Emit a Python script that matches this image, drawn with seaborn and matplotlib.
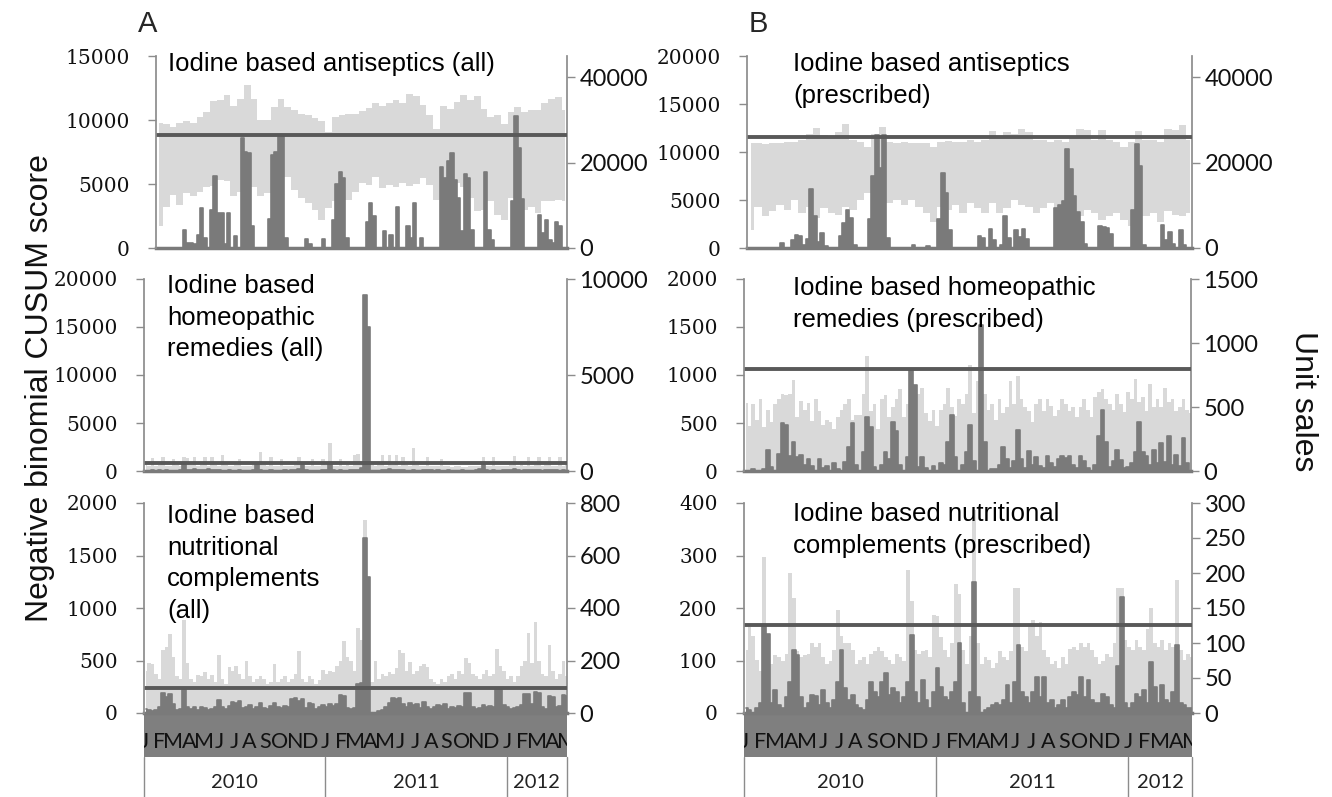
import numpy as np
import pandas as pd
import seaborn as sns
import matplotlib.pyplot as plt
from matplotlib.patches import Rectangle
from matplotlib.transforms import Bbox, TransformedBbox, blended_transform_factory

sns.set_theme(style='white')
plt.rcParams['font.family'] = ['Liberation Sans', 'DejaVu Sans']

# ---- data (weekly CUSUM, sales per week / fortnight) ----
# Jan 2010 .. Apr 2012, week 0 starts 1 Jan 2010
a_top_cusum_k = [0, 0, 0, 0, 0, 0, 0, 0, 1.4, 0.4,
                 0.4, 0.3, 1.0, 3.1, 0.8, 0, 3.0, 5.6, 2.7, 2.7,
                 0.3, 2.7, 0, 0.9, 0, 8.6, 7.5, 7.4, 1.7, 0,
                 0, 0, 0, 2.3, 7.3, 7.5, 8.7, 8.8, 0.8, 0,
                 0, 0, 0, 0, 0.7, 0.3, 0, 0, 0, 0.7,
                 0, 0, 2.2, 5.0, 5.9, 5.5, 0.8, 0, 0, 0,
                 0, 0, 2.0, 3.5, 2.5, 0, 0, 1.3, 0, 1.0,
                 0, 3.2, 0, 0, 1.7, 0.8, 3.5, 0, 0.8, 0,
                 0, 0, 0, 0, 6.3, 5.5, 6.8, 7.4, 5.3, 3.9,
                 1.3, 5.8, 5.5, 1.4, 0, 0, 0, 5.9, 1.4, 0.6,
                 0, 0, 0, 0, 0, 3.7, 10.3, 7.8, 3.8, 0,
                 0, 0, 0, 2.6, 1.2, 2.2, 0.6, 0.4, 2.0, 1.7,
                 0, 0]
# fortnightly high / low of daily unit sales (thousands)
a_top_sales_hi_k = [29.4, 29.0, 28.4, 29.2, 29.8, 29.3, 30.7, 31.9, 34.5, 34.6,
                    35.8, 33.2, 35.0, 38.1, 35.0, 30.0, 30.0, 33.1, 35.0, 33.1,
                    32.3, 31.5, 31.1, 30.4, 29.8, 27.2, 30.7, 31.1, 31.5, 31.5,
                    32.1, 32.9, 34.0, 33.2, 33.9, 34.6, 34.0, 36.2, 35.6, 33.5,
                    31.1, 28.0, 33.2, 32.5, 34.2, 35.8, 34.8, 35.6, 32.5, 30.7,
                    31.1, 29.0, 31.9, 33.1, 31.9, 32.3, 32.3, 33.9, 35.0, 35.3,
                    32.3]
a_top_sales_lo_k = [5.2, 9.7, 12.5, 10.1, 12.8, 12.1, 13.2, 14.4, 14.6, 16.0,
                    15.6, 12.1, 13.2, 15.6, 14.4, 12.1, 12.8, 13.2, 14.0, 16.7,
                    13.6, 11.7, 10.5, 8.9, 6.6, 9.3, 10.9, 11.7, 11.3, 13.2,
                    15.2, 14.8, 16.7, 14.0, 14.8, 14.4, 15.3, 14.6, 15.0, 16.3,
                    14.8, 11.3, 14.4, 12.8, 15.2, 14.4, 11.7, 8.6, 8.9, 10.9,
                    7.8, 6.6, 11.7, 9.6, 8.9, 9.7, 8.3, 11.1, 10.9, 11.3,
                    10.9]

b_top_cusum_k = [0, 0, 0, 0, 0, 0, 0, 0, 0, 0.5,
                 0, 0, 0.8, 1.4, 1.2, 0.3, 0.9, 6.1, 3.3, 0.6,
                 1.6, 0.2, 0, 0, 0, 1.2, 2.6, 4.0, 3.1, 0.3,
                 0, 0, 0, 3.0, 7.5, 11.8, 8.3, 11.8, 1.0, 0,
                 0, 0, 0, 0, 0, 0.3, 0, 0, 0, 0.2,
                 0, 0, 3.0, 7.8, 5.7, 1.9, 0, 0, 0, 0,
                 0, 0, 0, 1.2, 1.0, 0, 2.0, 0.8, 0, 0.3,
                 3.3, 1.0, 0, 1.9, 1.1, 2.0, 0.9, 0, 0, 0,
                 0, 0, 0, 0, 4.2, 4.5, 4.9, 10.3, 8.2, 5.4,
                 3.8, 2.7, 0.4, 0, 0, 0, 2.3, 2.2, 2.1, 1.5,
                 0, 0, 0, 0, 0, 4.0, 10.8, 8.5, 0.3, 0,
                 0, 0, 0, 2.4, 0.8, 1.7, 0.4, 0, 1.9, 0.3,
                 0, 0]
b_top_sales_hi_k = [24.5, 24.5, 24.4, 24.7, 24.5, 24.9, 24.9, 25.4, 26.8, 28.2,
                    26.5, 26.1, 27.2, 29.0, 25.4, 24.9, 23.7, 26.8, 28.4, 24.9,
                    24.7, 24.9, 24.5, 24.7, 24.5, 23.7, 24.9, 25.1, 24.9, 24.9,
                    25.3, 24.9, 25.3, 27.5, 25.7, 27.2, 26.8, 28.0, 27.2, 25.3,
                    25.3, 24.9, 25.3, 24.9, 25.7, 28.0, 27.6, 25.3, 27.6, 25.3,
                    24.9, 23.7, 24.9, 27.5, 25.3, 25.3, 24.9, 28.0, 27.6, 28.8,
                    25.3]
b_top_sales_lo_k = [4.3, 9.7, 7.4, 8.6, 10.1, 8.9, 11.3, 8.2, 9.7, 7.0,
                    9.3, 8.2, 7.8, 9.7, 8.9, 11.3, 12.8, 9.7, 8.2, 10.5,
                    11.3, 10.1, 11.3, 9.7, 8.2, 6.2, 9.7, 8.9, 10.1, 8.2,
                    10.5, 9.3, 8.2, 10.5, 8.2, 9.3, 11.3, 10.1, 9.7, 8.2,
                    9.3, 10.5, 8.6, 8.2, 9.7, 7.4, 8.9, 8.2, 6.6, 7.4,
                    8.2, 6.6, 5.1, 9.7, 7.4, 8.2, 6.2, 8.6, 7.8, 7.4,
                    8.2]

a_mid_cusum = [50, 0, 80, 0, 60, 0, 100, 0, 50, 0,
               120, 700, 150, 100, 200, 80, 150, 120, 200, 100,
               150, 80, 0, 50, 150, 0, 0, 100, 0, 50,
               0, 100, 700, 100, 0, 50, 150, 0, 50, 0,
               80, 0, 100, 150, 200, 650, 100, 0, 0, 50,
               0, 100, 150, 700, 150, 0, 80, 0, 50, 100,
               80, 150, 300, 18300, 15000, 0, 0, 50, 150, 100,
               200, 100, 150, 80, 100, 0, 50, 100, 0, 50,
               100, 150, 80, 0, 100, 50, 0, 80, 0, 50,
               0, 80, 0, 50, 0, 100, 200, 750, 150, 50,
               100, 50, 0, 80, 100, 150, 200, 100, 50, 100,
               150, 80, 100, 150, 50, 100, 150, 80, 100, 50,
               80, 50]
a_mid_sales = [300, 250, 700, 280, 300, 750, 260, 280, 640, 300,
               280, 720, 700, 300, 720, 280, 300, 720, 260, 720,
               300, 280, 810, 300, 250, 260, 300, 640, 280, 250,
               260, 300, 280, 985, 300, 260, 720, 280, 260, 640,
               250, 280, 260, 300, 720, 280, 250, 260, 640, 280,
               260, 640, 300, 1450, 280, 260, 640, 280, 300, 260,
               810, 900, 300, 9100, 3500, 300, 280, 300, 810, 280,
               810, 300, 810, 280, 720, 300, 280, 1200, 300, 280,
               260, 720, 280, 250, 260, 640, 250, 240, 220, 240,
               250, 230, 220, 240, 260, 250, 280, 720, 280, 260,
               720, 280, 260, 250, 280, 300, 760, 280, 300, 260,
               720, 280, 300, 720, 280, 300, 720, 280, 260, 720,
               280, 300]

b_mid_cusum = [0, 0, 20, 0, 0, 20, 220, 40, 0, 180,
               500, 480, 160, 300, 150, 165, 60, 130, 50, 0,
               130, 30, 50, 0, 80, 20, 0, 95, 250, 500,
               60, 0, 200, 560, 460, 40, 0, 60, 200, 120,
               510, 420, 60, 0, 150, 1060, 900, 40, 150, 30,
               0, 50, 0, 80, 60, 300, 580, 150, 0, 60,
               200, 480, 100, 0, 1520, 300, 0, 20, 20, 60,
               250, 120, 30, 100, 430, 120, 30, 210, 60, 150,
               50, 30, 160, 80, 40, 130, 160, 140, 160, 60,
               30, 160, 100, 30, 0, 60, 360, 640, 300, 40,
               100, 220, 110, 30, 40, 80, 200, 510, 200, 160,
               60, 220, 80, 290, 90, 365, 60, 165, 50, 340,
               80, 0]
b_mid_sales = [530, 350, 520, 400, 560, 340, 480, 380, 520, 560,
               600, 590, 600, 710, 420, 550, 480, 530, 390, 560,
               470, 360, 400, 380, 330, 420, 480, 520, 560, 400,
               440, 440, 600, 900, 470, 520, 330, 560, 590, 420,
               500, 560, 640, 420, 520, 560, 430, 600, 650, 450,
               390, 480, 350, 480, 520, 650, 500, 430, 560, 520,
               600, 830, 450, 700, 1000, 600, 480, 520, 400, 560,
               450, 500, 700, 520, 740, 560, 500, 470, 380, 520,
               560, 470, 560, 510, 430, 480, 560, 520, 470, 500,
               420, 500, 560, 480, 420, 580, 620, 640, 560, 520,
               480, 600, 520, 460, 620, 560, 720, 540, 580, 470,
               680, 500, 560, 500, 650, 540, 560, 470, 500, 560,
               480, 450]

a_bot_cusum = [40, 30, 20, 30, 60, 190, 150, 185, 90, 30,
               40, 235, 60, 40, 55, 30, 60, 45, 30, 40,
               60, 120, 60, 40, 70, 105, 95, 110, 50, 60,
               80, 40, 60, 95, 50, 40, 70, 95, 60, 50,
               70, 60, 130, 140, 110, 135, 50, 95, 90, 40,
               60, 80, 60, 85, 70, 90, 170, 160, 50, 40,
               50, 280, 290, 1665, 1300, 0, 0, 20, 30, 60,
               100, 140, 130, 140, 90, 60, 95, 80, 90, 50,
               108, 60, 40, 60, 80, 70, 85, 40, 60, 50,
               70, 60, 190, 195, 60, 40, 50, 80, 60, 70,
               60, 235, 230, 80, 60, 40, 50, 60, 80, 180,
               185, 90, 200, 190, 60, 40, 165, 150, 60, 70,
               170, 165]
a_bot_sales = [160, 190, 185, 150, 130, 240, 250, 300, 215, 140,
               130, 355, 190, 130, 120, 145, 140, 155, 130, 145,
               120, 220, 130, 110, 175, 160, 180, 150, 130, 200,
               140, 120, 130, 140, 130, 110, 120, 185, 120, 130,
               140, 120, 130, 150, 235, 130, 120, 140, 130, 110,
               125, 165, 150, 160, 155, 180, 200, 275, 215, 200,
               160, 325, 280, 735, 380, 120, 200, 130, 150, 140,
               155, 150, 170, 240, 230, 160, 195, 150, 160, 180,
               185, 175, 130, 120, 110, 130, 120, 140, 150, 130,
               160, 150, 210, 190, 150, 140, 130, 150, 165, 140,
               150, 245, 180, 160, 130, 140, 120, 140, 180, 200,
               305, 190, 345, 200, 150, 140, 260, 160, 130, 150,
               200, 140]

b_bot_cusum = [10, 5, 0, 10, 20, 168, 150, 20, 44, 15,
               10, 30, 60, 120, 110, 30, 10, 20, 35, 33,
               15, 44, 20, 10, 25, 60, 120, 48, 25, 35,
               15, 10, 5, 25, 60, 40, 30, 60, 76, 35,
               48, 40, 20, 30, 60, 149, 40, 20, 63, 25,
               10, 40, 85, 50, 30, 25, 40, 60, 133, 20,
               0, 40, 250, 30, 0, 5, 10, 15, 20, 15,
               25, 53, 20, 60, 130, 40, 30, 20, 40, 69,
               30, 69, 20, 25, 10, 15, 25, 10, 30, 40,
               35, 69, 30, 63, 25, 20, 20, 37, 30, 15,
               10, 90, 221, 20, 10, 20, 37, 30, 44, 20,
               98, 50, 20, 53, 25, 20, 40, 130, 20, 15,
               10, 10]
b_bot_sales = [90, 123, 110, 76, 60, 223, 90, 70, 83, 80,
               75, 85, 200, 164, 88, 80, 83, 85, 100, 95,
               100, 80, 70, 75, 90, 147, 110, 100, 100, 90,
               70, 76, 80, 70, 85, 88, 95, 88, 80, 76,
               70, 85, 80, 75, 204, 160, 90, 85, 88, 90,
               80, 140, 138, 109, 90, 80, 100, 185, 170, 90,
               70, 110, 290, 100, 70, 80, 76, 65, 72, 88,
               80, 76, 88, 178, 178, 95, 88, 123, 133, 110,
               130, 90, 80, 70, 75, 65, 80, 70, 92, 95,
               90, 100, 95, 100, 90, 80, 70, 75, 85, 80,
               100, 178, 178, 104, 95, 90, 104, 95, 90, 120,
               150, 100, 95, 104, 90, 100, 95, 190, 90, 76,
               85, 80]

thresholds = [8800, 11600, 850, 1066, 240, 168]
titles = ['Iodine based antiseptics (all)',
          'Iodine based antiseptics\n(prescribed)',
          'Iodine based\nhomeopathic\nremedies (all)',
          'Iodine based homeopathic\nremedies (prescribed)',
          'Iodine based\nnutritional\ncomplements\n(all)',
          'Iodine based nutritional\ncomplements (prescribed)']
years = ['2010', '2011', '2012']

START = pd.Timestamp('2010-01-01')
END = pd.Timestamp('2012-05-01')
W, H = 1332, 797
LIGHT = '#d9d9d9'
DARK = '#7a7a7a'
THR = '#595959'
SPINE = '#8c8c8c'


def centres(n, days):
    return START + pd.to_timedelta(np.arange(n) * days + days / 2, unit='D')


panels = [
    dict(box=(156, 56, 567, 248), cusum=np.array(a_top_cusum_k) * 1000,
         hi=np.array(a_top_sales_hi_k) * 1000, lo=np.array(a_top_sales_lo_k) * 1000,
         days=14, left=(15000, 5000), right=(45000, 20000), tpos=(168, 52)),
    dict(box=(747, 56, 1192, 248), cusum=np.array(b_top_cusum_k) * 1000,
         hi=np.array(b_top_sales_hi_k) * 1000, lo=np.array(b_top_sales_lo_k) * 1000,
         days=14, left=(20000, 5000), right=(45000, 20000), tpos=(793, 52)),
    dict(box=(144, 279, 567, 471), cusum=np.array(a_mid_cusum),
         hi=np.array(a_mid_sales), lo=None,
         days=7, left=(20000, 5000), right=(10000, 5000), tpos=(167, 274)),
    dict(box=(744, 279, 1191, 471), cusum=np.array(b_mid_cusum),
         hi=np.array(b_mid_sales), lo=None,
         days=7, left=(2000, 500), right=(1500, 500), tpos=(793, 276)),
    dict(box=(144, 503, 567, 713), cusum=np.array(a_bot_cusum),
         hi=np.array(a_bot_sales), lo=None,
         days=7, left=(2000, 500), right=(800, 200), tpos=(167, 504), months=True),
    dict(box=(744, 503, 1192, 713), cusum=np.array(b_bot_cusum),
         hi=np.array(b_bot_sales), lo=None,
         days=7, left=(400, 100), right=(300, 50), tpos=(793, 502), months=True),
]

fig = plt.figure(figsize=(W / 100, H / 100), dpi=100)

month_starts = pd.date_range(START, END, freq='MS')
month_letters = [d.strftime('%B')[0] for d in month_starts]
year_edges = pd.to_datetime(['2010-01-01', '2011-01-01', '2012-01-01', '2012-05-01'])

for p, thr, title in zip(panels, thresholds, titles):
    l, t, r, b = p['box']
    ax = fig.add_axes([l / W, 1 - b / H, (r - l) / W, (b - t) / H])
    tw = ax.twinx()

    # unit sales (right scale) underneath
    xs = centres(len(p['hi']), p['days'])
    lo = p['lo'] if p['lo'] is not None else np.zeros(len(p['hi']))
    ax.fill_between(xs, lo, p['hi'], step='mid', color=LIGHT, lw=0)

    # CUSUM score (left scale)
    xc = centres(len(p['cusum']), 7)
    tw.fill_between(xc, 0, p['cusum'], step='mid', color=DARK, lw=0)
    sns.lineplot(x=xc, y=p['cusum'], ax=tw, color=DARK, lw=1.2,
                 drawstyle='steps-mid', legend=False)
    tw.axhline(thr, color=THR, lw=2.8)

    ax.set_xlim(START, END)
    lmax, lstep = p['left']
    rmax, rstep = p['right']
    ax.set_ylim(0, rmax)
    tw.set_ylim(0, lmax)
    rt = np.arange(0, rmax + 1, rstep)
    lt = np.arange(0, lmax + 1, lstep)
    ax.set_yticks(rt, labels=[str(v) for v in rt], fontfamily='Lato', fontsize=17)
    tw.set_yticks(lt, labels=[str(v) for v in lt], fontfamily='DejaVu Serif', fontsize=14.5)
    ax.yaxis.tick_right()
    tw.yaxis.tick_left()
    ax.tick_params(axis='y', which='both', direction='out', length=6, width=1,
                   color=SPINE, pad=3, labelcolor='#111111', right=True, left=False)
    tw.tick_params(axis='y', which='both', direction='out', length=6, width=1,
                   color=SPINE, pad=13, labelcolor='#111111', left=True, right=False)
    ax.set_ylabel('')
    tw.set_ylabel('')
    for s in ['top', 'left']:
        ax.spines[s].set_visible(False)
    for s in ['top', 'right', 'bottom']:
        tw.spines[s].set_visible(False)
    ax.spines['right'].set_color(SPINE)
    ax.spines['bottom'].set_color(DARK)
    ax.spines['bottom'].set_linewidth(2.5)
    tw.spines['left'].set_color(SPINE)
    ax.set_xticks([])
    tw.set_xticks([])

    fig.text(p['tpos'][0] / W, 1 - p['tpos'][1] / H, title, fontsize=18.5,
             va='top', ha='left', linespacing=1.4, color='#000000')

    if p.get('months'):
        h = b - t
        band_h = 44 / h
        ax.add_patch(Rectangle((0, -band_h), 1, band_h, transform=ax.transAxes,
                               color='#7f7f7f', lw=0, clip_on=False))
        clip = TransformedBbox(Bbox([[0, -band_h], [1, 0]]), ax.transAxes)
        blend = blended_transform_factory(ax.transData, ax.transAxes)
        for d, letter in zip(month_starts, month_letters):
            txt = ax.text(d, -29 / h, letter, transform=blend, ha='center', va='center',
                          fontfamily='Lato', fontsize=15.5, color='#111111')
            txt.set_clip_path(None)
            txt.set_clip_box(clip)
            txt.set_clip_on(True)
        for d in year_edges:
            ax.plot([d, d], [-band_h, -84 / h], transform=blend, color=SPINE,
                    lw=1, clip_on=False)
        for i, yr in enumerate(years):
            mid = year_edges[i] + (year_edges[i + 1] - year_edges[i]) / 2
            ax.text(mid, -70 / h, yr, transform=blend, ha='center', va='center',
                    fontfamily='Lato', fontsize=14.5, color='#222222')

fig.text(138 / W, 1 - 32 / H, 'A', fontsize=21, va='baseline', ha='left')
fig.text(749 / W, 1 - 32 / H, 'B', fontsize=21, va='baseline', ha='left')
fig.text(40 / W, 1 - 388 / H, 'Negative binomial CUSUM score', rotation=90,
         fontsize=23, va='center', ha='center', color='#111111')
fig.text(1303 / W, 1 - 401 / H, 'Unit sales', rotation=270,
         fontsize=23, va='center', ha='center', color='#111111')

fig.savefig('out.png', dpi=100, facecolor='white')
